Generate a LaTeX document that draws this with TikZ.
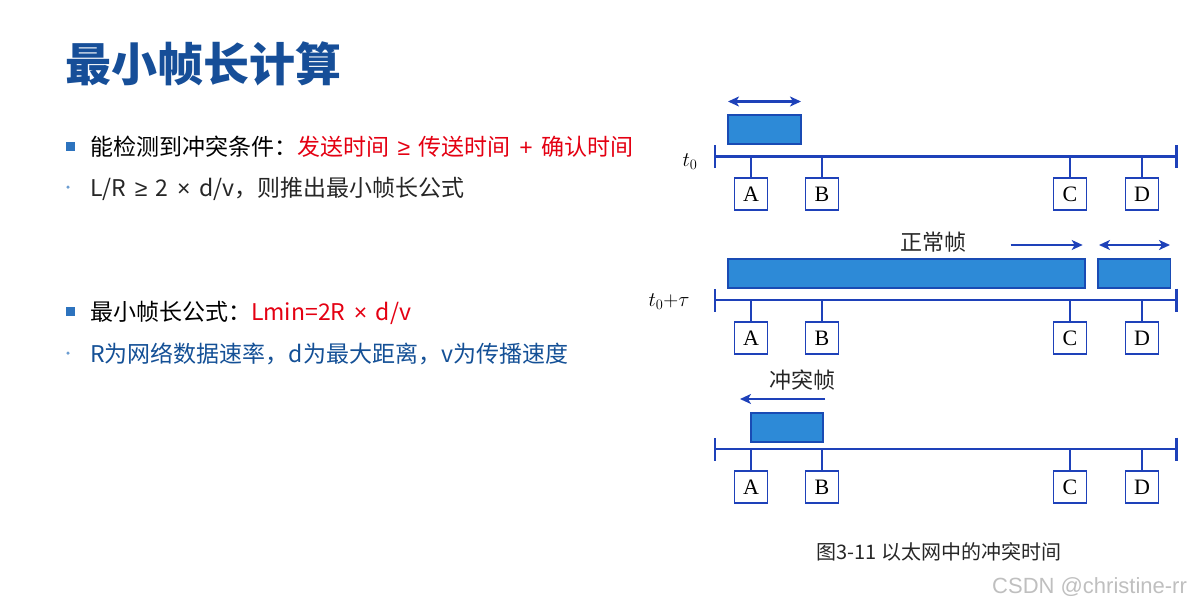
\documentclass[tikz,border=0pt]{standalone}
\usepackage{fontspec}
\setmainfont{Liberation Serif}
\newfontfamily\cjk{Noto Sans CJK SC}
\newfontfamily\wmark{Liberation Sans}
\newcommand\gsym[1]{\hspace{8.5pt}{\wmark #1}\hspace{8.5pt}}
\usepackage{tikz}
\usetikzlibrary{arrows.meta,positioning}
\definecolor{titleB}{RGB}{22,78,152}
\definecolor{dotB}{RGB}{45,115,190}
\definecolor{warnR}{RGB}{228,0,18}
\definecolor{noteB}{RGB}{20,80,150}
\definecolor{netB}{RGB}{30,65,185}
\definecolor{frmF}{RGB}{45,138,215}
\definecolor{frmD}{RGB}{25,75,180}

\begin{document}
\begin{tikzpicture}[x=1pt, y=-1pt, >={Stealth[length=11pt,width=10pt,inset=3pt]},
  sq/.style={rectangle, fill=dotB, minimum size=9pt, inner sep=0},
  dt/.style={circle, fill=dotB!70, minimum size=3.5pt, inner sep=0},
  txt/.style={anchor=base west, inner sep=0, font=\cjk\fontsize{23}{28}\selectfont},
  bus/.style={draw=netB, line width=2.3pt, arrows={Bar[width=23pt]-Bar[width=23pt]}},
  tap/.style={draw=netB, line width=1.8pt},
  stn/.style={rectangle, draw=netB, line width=1.8pt, fill=white, minimum width=33pt, minimum height=32pt, inner sep=0, font=\fontsize{22}{26}\selectfont},
  frm/.style={rectangle, draw=frmD, fill=frmF, line width=1.8pt, inner sep=0},
  arr/.style={draw=netB, line width=2.2pt},
  lab/.style={inner sep=0, font=\fontsize{22}{26}\selectfont},
  flab/.style={inner sep=0, font=\cjk\fontsize{22}{26}\selectfont, text=black!85}]
  \useasboundingbox (0,0) rectangle (1192,605);
  % slide text
  \node[anchor=base west, inner sep=0, font=\cjk\bfseries\fontsize{46}{52}\selectfont, text=titleB] (title) at (65,81) {最小帧长计算};
  \node[sq] (b1) at (70.5,146.5) {};
  \node[txt] (l1) at (90,155) {能检测到冲突条件：\textcolor{warnR}{发送时间\gsym{≥}传送时间\gsym{+}确认时间}};
  \node[dt] (b2) at (68,187) {};
  \node[txt, text=black!85] (l2) at (90,196) {L/R\gsym{≥}2\gsym{×}d/v，则推出最小帧长公式};
  \node[sq] (b3) at (70.5,311) {};
  \node[txt] (l3) at (90,320) {最小帧长公式：\textcolor{warnR}{Lmin=2R\gsym{×}d/v}};
  \node[dt] (b4) at (68,353) {};
  \node[txt, text=noteB] (l4) at (90,362) {R为网络数据速率，d为最大距离，v为传播速度};
  % panel 1: t0
  \node[frm, minimum width=73pt, minimum height=29pt] (f1) at (764.5,129.5) {};
  \coordinate (a1l) at (728,101.5); \coordinate (a1r) at (801,101.5);
  \draw[arr,<->] (a1l) -- (a1r);
  \coordinate (L1) at (714,156.5); \coordinate (R1) at (1177.5,156.5);
  \draw[bus] (L1) -- (R1);
  \node[lab] (t1) at (690,162) {$t_0$};
  \node[stn] (A1) at (751,194) {A};
  \node[stn] (B1) at (822,194) {B};
  \node[stn] (C1) at (1070,194) {C};
  \node[stn] (D1) at (1142,194) {D};
  \draw[tap] (A1.north) -- (A1.north |- L1);
  \draw[tap] (B1.north) -- (B1.north |- L1);
  \draw[tap] (C1.north) -- (C1.north |- L1);
  \draw[tap] (D1.north) -- (D1.north |- L1);
  % panel 2: t0+tau
  \node[flab] (ok) at (933,242) {正常帧};
  \coordinate (a2l) at (1010.7,245); \coordinate (a2r) at (1082.7,245);
  \draw[arr,->] (a2l) -- (a2r);
  \coordinate (a3l) at (1099,245); \coordinate (a3r) at (1170,245);
  \draw[arr,<->] (a3l) -- (a3r);
  \node[frm, minimum width=357pt, minimum height=29pt] (f2) at (906.5,273.5) {};
  \node[frm, minimum width=72.5pt, minimum height=29pt] (f3) at (1134.25,273.5) {};
  \coordinate (L2) at (714,300); \coordinate (R2) at (1177.5,300);
  \draw[bus] (L2) -- (R2);
  \node[lab] (t2) at (669,302) {$t_0{+}\tau$};
  \node[stn] (A2) at (751,338) {A};
  \node[stn] (B2) at (822,338) {B};
  \node[stn] (C2) at (1070,338) {C};
  \node[stn] (D2) at (1142,338) {D};
  \draw[tap] (A2.north) -- (A2.north |- L2);
  \draw[tap] (B2.north) -- (B2.north |- L2);
  \draw[tap] (C2.north) -- (C2.north |- L2);
  \draw[tap] (D2.north) -- (D2.north |- L2);
  % panel 3: collision
  \node[flab] (bad) at (802,380) {冲突帧};
  \coordinate (a4r) at (825,399); \coordinate (a4l) at (740,399);
  \draw[arr,->] (a4r) -- (a4l);
  \node[frm, minimum width=72pt, minimum height=28.7pt] (f4) at (786.7,427.3) {};
  \coordinate (L3) at (714,449); \coordinate (R3) at (1177.5,449);
  \draw[bus] (L3) -- (R3);
  \node[stn] (A3) at (751,487) {A};
  \node[stn] (B3) at (822,487) {B};
  \node[stn] (C3) at (1070,487) {C};
  \node[stn] (D3) at (1142,487) {D};
  \draw[tap] (A3.north) -- (A3.north |- L3);
  \draw[tap] (B3.north) -- (B3.north |- L3);
  \draw[tap] (C3.north) -- (C3.north |- L3);
  \draw[tap] (D3.north) -- (D3.north |- L3);
  % caption and watermark
  \node[inner sep=0, font=\cjk\fontsize{20}{24}\selectfont, text=black!85] (fig) at (939,552) {图3-11 以太网中的冲突时间};
  \node[anchor=west, inner sep=0, font=\wmark\fontsize{22}{26}\selectfont, text=black!25] (wm) at (992,587) {CSDN @christine-rr};
\end{tikzpicture}
\end{document}
